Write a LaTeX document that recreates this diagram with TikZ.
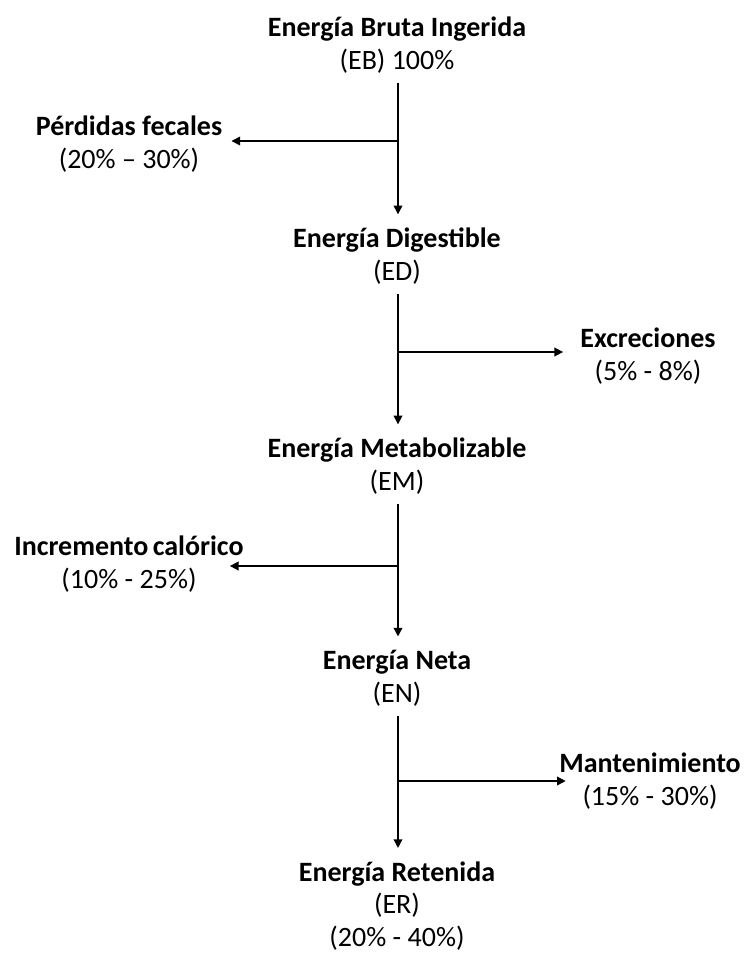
\documentclass[tikz,border=0pt]{standalone}
\usepackage{fontspec}
\setmainfont{Carlito}
\usetikzlibrary{arrows.meta}
\begin{document}
\begin{tikzpicture}[x=0.75pt,y=-0.75pt,
  lbl/.style={align=center,inner sep=0pt,font=\fontsize{21pt}{24.5pt}\selectfont},
  flow/.style={line width=1.1pt,-{Triangle[length=6.5pt,width=6.5pt]}},
  branch/.style={line width=1.1pt,-{Triangle[length=6.5pt,width=6.5pt]}}]
\useasboundingbox (0,0) rectangle (743,960);
\node[lbl] (EB) at (397,45) {\textbf{Energía Bruta Ingerida}\\(EB) 100\%};
\node[lbl] (ED) at (397,256) {\textbf{Energía Digestible}\\(ED)};
\node[lbl] (EM) at (397,466) {\textbf{Energía Metabolizable}\\(EM)};
\node[lbl] (EN) at (397,678) {\textbf{Energía Neta}\\(EN)};
\node[lbl] (ER) at (397,906) {\textbf{Energía Retenida}\\(ER)\\(20\% - 40\%)};
\node[lbl] (PF) at (129,144) {\textbf{Pérdidas fecales}\\(20\% – 30\%)};
\node[lbl] (EX) at (648,356) {\textbf{Excreciones}\\(5\% - 8\%)};
\node[lbl] (IC) at (129,564) {\textbf{Incremento\hspace{-0.07em} calórico}\\(10\% - 25\%)};
\node[lbl] (MA) at (650,781) {\textbf{Mantenimiento}\\(15\% - 30\%)};
\coordinate (b1) at (398,141);
\coordinate (b2) at (398,352);
\coordinate (b3) at (398,566);
\coordinate (b4) at (398,781);
\draw[flow,shorten <=7pt,shorten >=10pt] (EB.south -| b1) -- (ED.north -| b1);
\draw[flow,shorten <=7pt,shorten >=10pt] (ED.south -| b2) -- (EM.north -| b2);
\draw[flow,shorten <=7pt,shorten >=10pt] (EM.south -| b3) -- (EN.north -| b3);
\draw[flow,shorten <=7pt,shorten >=10pt] (EN.south -| b4) -- (ER.north -| b4);
\draw[branch,shorten >=6.75pt] (b1) -- (b1 -| PF.east);
\draw[branch,shorten >=12.75pt] (b2) -- (b2 -| EX.west);
\draw[branch,shorten >=-10.5pt] (b3) -- (b3 -| IC.east);
\draw[branch,shorten >=-5pt] (b4) -- (b4 -| MA.west);
\end{tikzpicture}
\end{document}
